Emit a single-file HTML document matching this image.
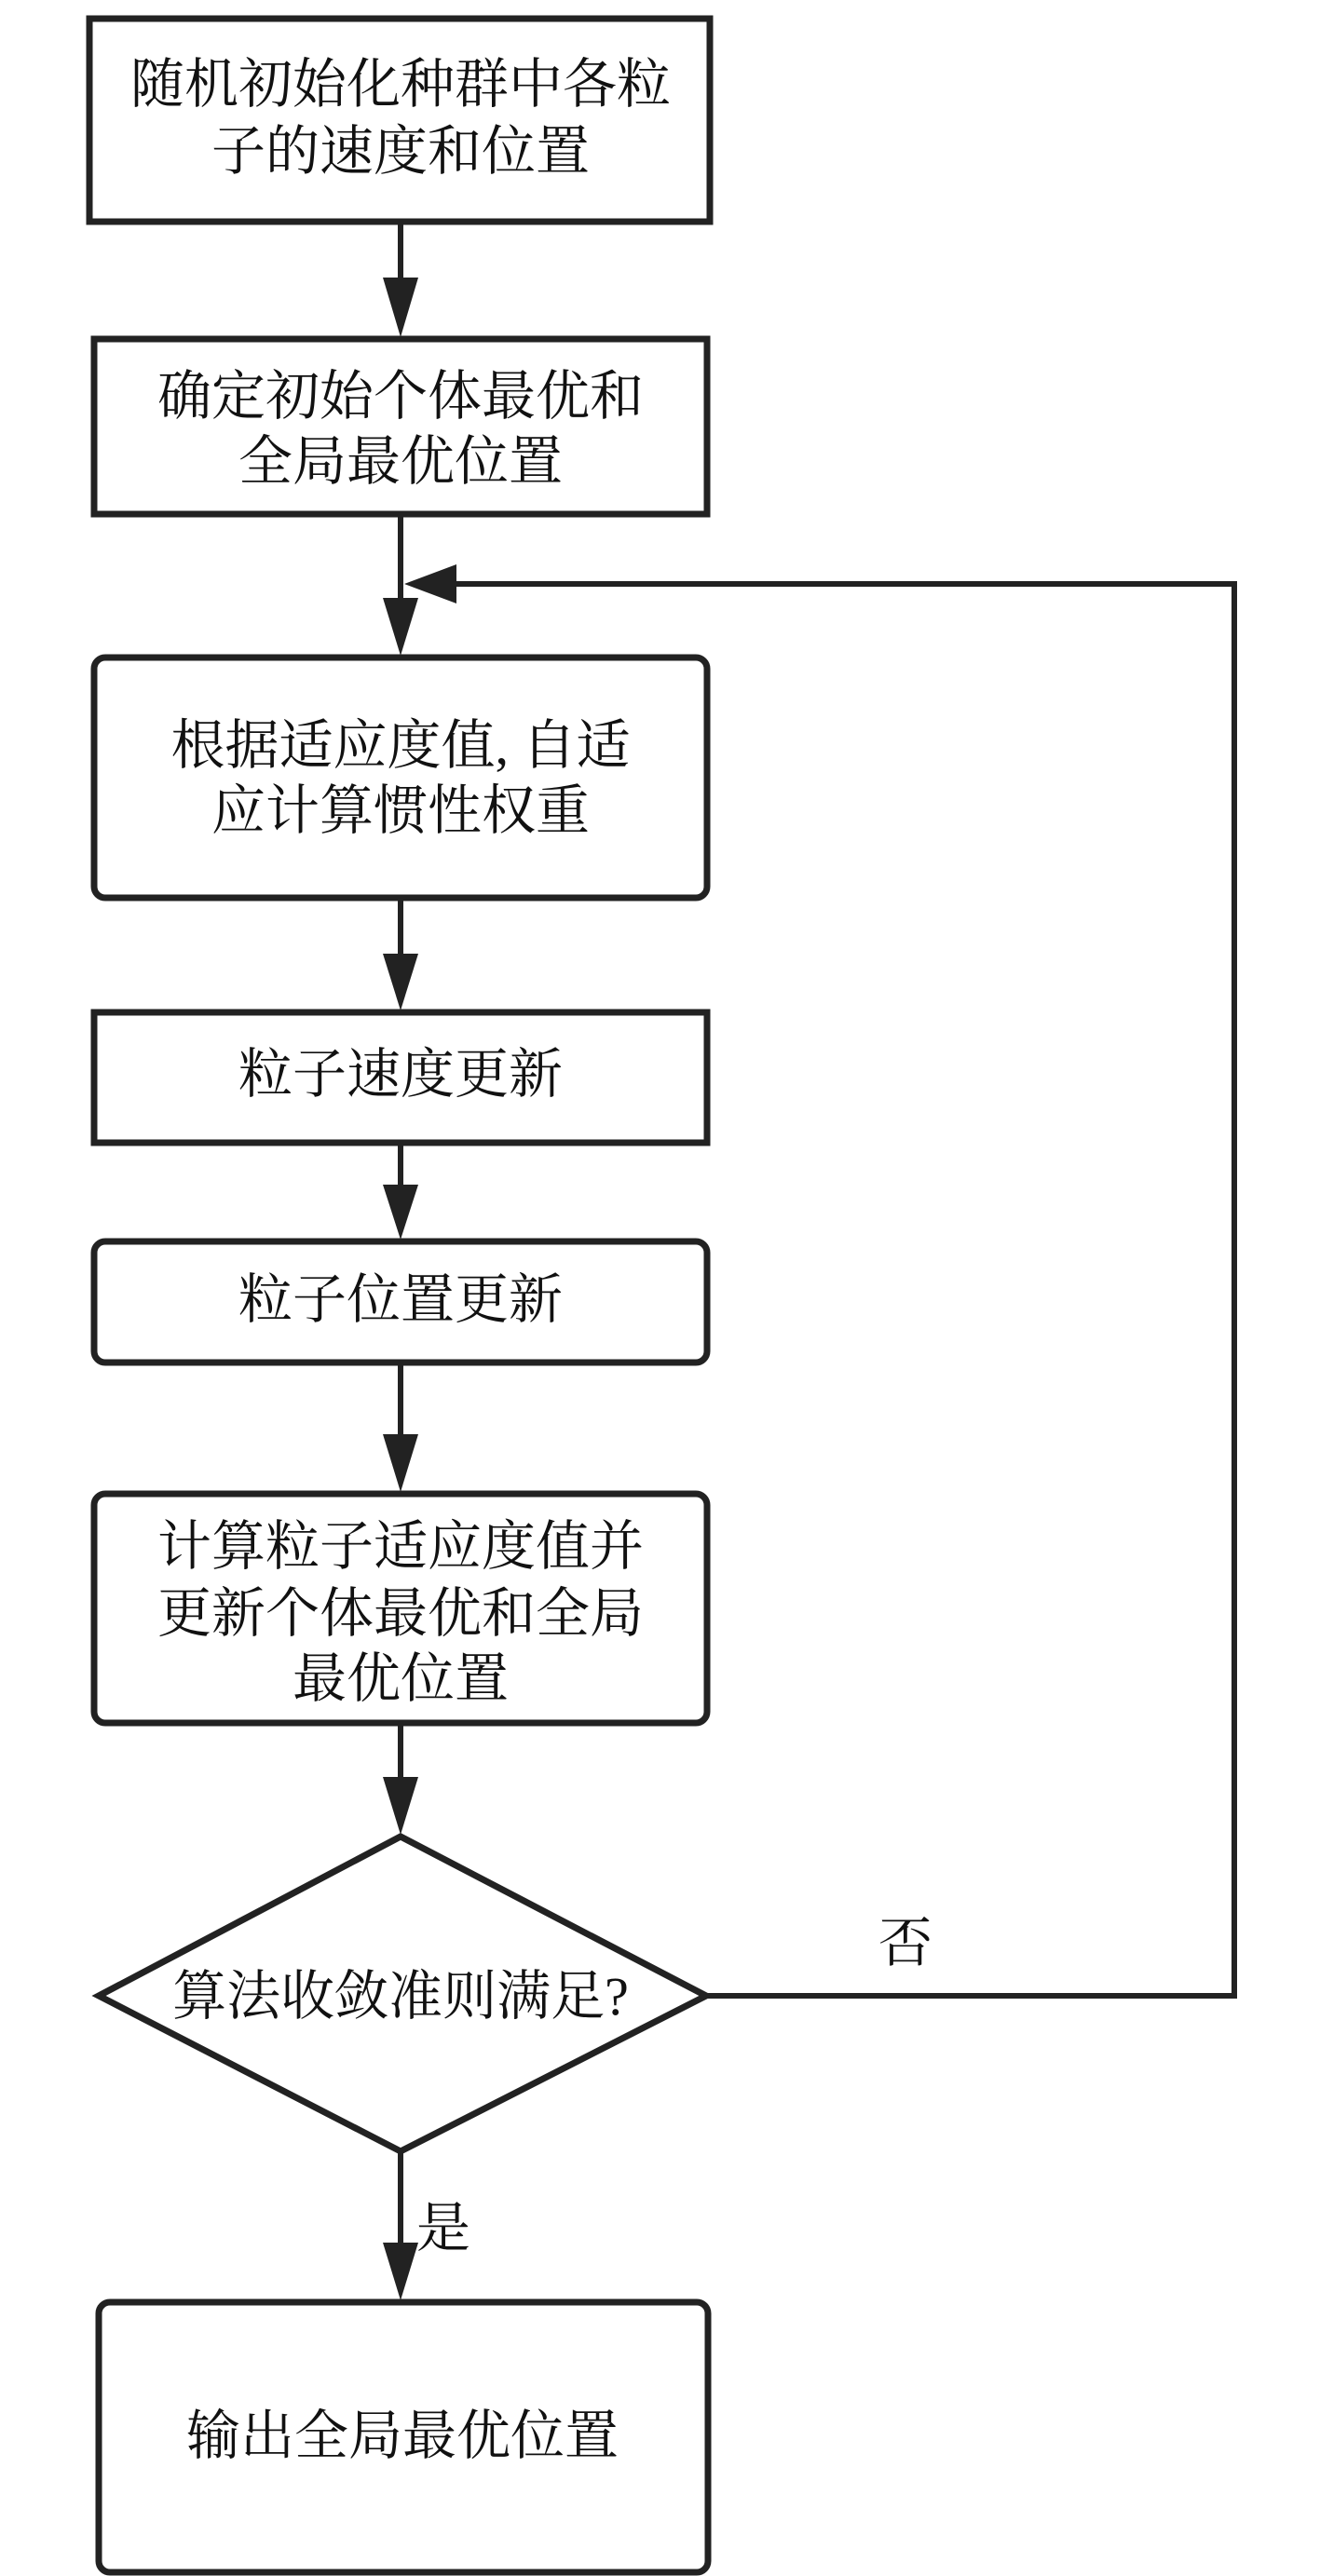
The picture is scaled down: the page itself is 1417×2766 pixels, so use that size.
<!DOCTYPE html>
<html><head><meta charset="utf-8"><style>
html,body{margin:0;padding:0;background:#fff;}
svg{display:block;}
text{font-family:"Liberation Serif","Noto Serif CJK SC","Noto Sans CJK SC",serif;font-size:58px;fill:#111;text-anchor:middle;}
</style></head><body>
<svg width="1417" height="2766" viewBox="0 0 1417 2766" xmlns="http://www.w3.org/2000/svg">
<g fill="none" stroke="#222" stroke-width="7">
<rect x="96" y="20" width="666" height="218"/>
<rect x="101" y="364" width="658" height="188"/>
<rect x="101" y="706" width="658" height="258" rx="12"/>
<rect x="101" y="1087" width="658" height="140"/>
<rect x="101" y="1333" width="658" height="130" rx="12"/>
<rect x="101" y="1604" width="658" height="246" rx="12"/>
<polygon points="430,1972 758,2143 430,2310 106,2143"/>
<rect x="106" y="2472" width="654" height="290" rx="12"/>
</g>
<g stroke="#222" stroke-width="6" fill="none">
<line x1="430" y1="238" x2="430" y2="310"/>
<line x1="430" y1="552" x2="430" y2="650"/>
<line x1="430" y1="964" x2="430" y2="1030"/>
<line x1="430" y1="1227" x2="430" y2="1280"/>
<line x1="430" y1="1463" x2="430" y2="1548"/>
<line x1="430" y1="1850" x2="430" y2="1915"/>
<line x1="430" y1="2310" x2="430" y2="2415"/>
<polyline points="758,2143 1325,2143 1325,627 480,627"/>
</g>
<g fill="#222">
<polygon points="411,298 449,298 430,362"/>
<polygon points="411,642 449,642 430,704"/>
<polygon points="411,1024 449,1024 430,1085"/>
<polygon points="411,1272 449,1272 430,1331"/>
<polygon points="411,1540 449,1540 430,1602"/>
<polygon points="411,1908 449,1908 430,1970"/>
<polygon points="411,2408 449,2408 430,2470"/>
<polygon points="434,627 490,606 490,648"/>
</g>
<text x="430" y="110">随机初始化种群中各粒</text>
<text x="430" y="182">子的速度和位置</text>
<text x="430" y="445">确定初始个体最优和</text>
<text x="430" y="515">全局最优位置</text>
<text x="430" y="820">根据适应度值, 自适</text>
<text x="430" y="890">应计算惯性权重</text>
<text x="430" y="1173">粒子速度更新</text>
<text x="430" y="1415">粒子位置更新</text>
<text x="430" y="1680">计算粒子适应度值并</text>
<text x="430" y="1752">更新个体最优和全局</text>
<text x="430" y="1822">最优位置</text>
<text x="430" y="2163">算法收敛准则满足?</text>
<text x="972" y="2106">否</text>
<text x="476" y="2412">是</text>
<text x="432" y="2635">输出全局最优位置</text>
</svg>
</body></html>
